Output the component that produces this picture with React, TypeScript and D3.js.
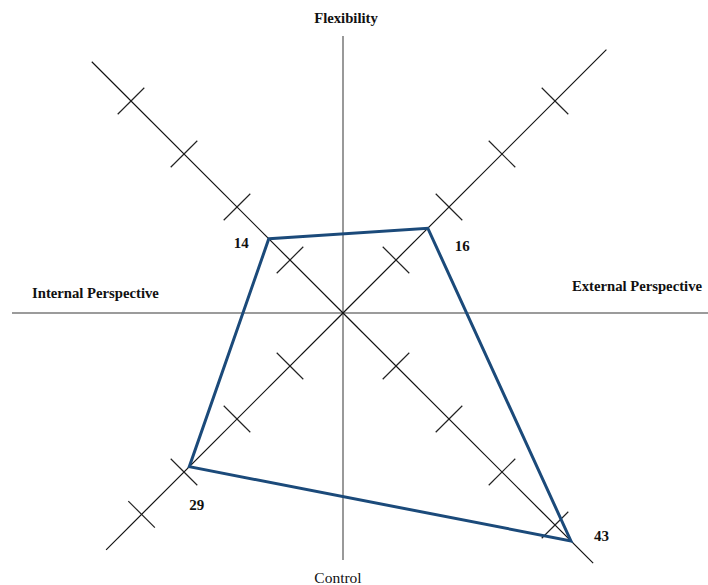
import React from "react";
import * as d3 from "d3";

// Diagonal axes (score axes), clockwise from upper-left
const axisNames = ["NW", "NE", "SE", "SW"];
const axisAngles = [-135, -45, 45, 135]; // degrees, screen coords
const scores = [14, 16, 43, 29];
const axisExtent = [47.4, 49.7, 47.2, 44.7]; // line length in score units
const axisTicks = [
  [10, 20, 30, 40],
  [10, 20, 30, 40],
  [10, 20, 30, 40],
  [10, 20, 30, 38],
];

// Quadrant dimension labels
const dimensionLabels = ["Flexibility", "External Perspective", "Control", "Internal Perspective"];

const W = 708;
const H = 585;
const cx = 343;
const cy = 313;

export default function App() {
  // radial distance along a diagonal for a score value
  const r = d3.scaleLinear().domain([0, 10]).range([0, 53 * Math.SQRT2]);

  const pt = (angleDeg: number, v: number): [number, number] => {
    const a = (angleDeg * Math.PI) / 180;
    return [cx + Math.cos(a) * r(v), cy + Math.sin(a) * r(v)];
  };

  const tickHalf = 18.8;
  const polyPts = scores.map((v, i) => pt(axisAngles[i], v));
  const polyPath = d3.line().curve(d3.curveLinearClosed)(polyPts) || "";

  const labelOffsets: [number, number, string][] = [
    [-20, 9, "end"],
    [27, 23, "start"],
    [23, 0, "start"],
    [0, 43, "start"],
  ];

  const serif = "'Liberation Serif', 'Times New Roman', serif";

  return (
    <svg
      width={W}
      height={H}
      style={{ position: "absolute", left: 0, top: 0, background: "#fff" }}
      fontFamily={serif}
    >
      {/* main cross axes */}
      <line x1={12} y1={cy} x2={708} y2={cy} stroke="#7a7a7a" strokeWidth={1.6} />
      <line x1={cx} y1={36} x2={cx} y2={560} stroke="#6e6e6e" strokeWidth={1.4} />

      {/* diagonal score axes with tick crosses */}
      {axisNames.map((name, i) => {
        const ang = axisAngles[i];
        const [ex, ey] = pt(ang, axisExtent[i]);
        const perp = ((ang + 90) * Math.PI) / 180;
        const px = Math.cos(perp) * tickHalf;
        const py = Math.sin(perp) * tickHalf;
        return (
          <g key={name}>
            <line x1={cx} y1={cy} x2={ex} y2={ey} stroke="#111" strokeWidth={1.2} />
            {axisTicks[i].map((t) => {
              const [tx, ty] = pt(ang, t);
              return (
                <line
                  key={t}
                  x1={tx - px}
                  y1={ty - py}
                  x2={tx + px}
                  y2={ty + py}
                  stroke="#222"
                  strokeWidth={1.2}
                />
              );
            })}
          </g>
        );
      })}

      {/* score polygon */}
      <path d={polyPath} fill="none" stroke="#1b4a7a" strokeWidth={3} strokeLinejoin="miter" />

      {/* score labels */}
      {scores.map((v, i) => {
        const [x, y] = polyPts[i];
        const [dx, dy, anchor] = labelOffsets[i];
        return (
          <text
            key={i}
            x={x + dx}
            y={y + dy}
            textAnchor={anchor}
            fontSize={15}
            fontWeight="bold"
            fill="#111"
          >
            {v}
          </text>
        );
      })}

      {/* dimension labels */}
      <text x={346} y={23} textAnchor="middle" fontSize={14.7} fontWeight="bold" fill="#111">
        {dimensionLabels[0]}
      </text>
      <text x={702} y={291} textAnchor="end" fontSize={14.7} fontWeight="bold" fill="#111">
        {dimensionLabels[1]}
      </text>
      <text x={338} y={583} textAnchor="middle" fontSize={15.5} fill="#111">
        {dimensionLabels[2]}
      </text>
      <text x={32} y={298} textAnchor="start" fontSize={14.7} fontWeight="bold" fill="#111">
        {dimensionLabels[3]}
      </text>
    </svg>
  );
}
